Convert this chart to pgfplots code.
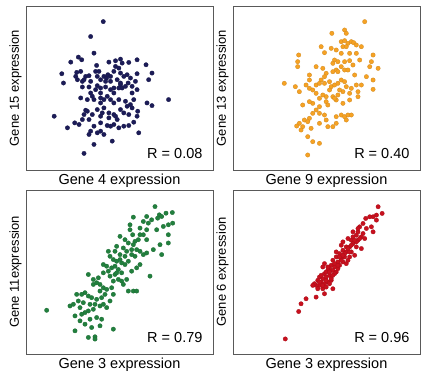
\documentclass[border=0pt]{standalone}
\usepackage{pgfplots}
\pgfplotsset{compat=1.18}
\usepackage{fontspec}
\setmainfont{Liberation Sans}
\definecolor{cnavy}{RGB}{28,28,88}
\definecolor{corange}{RGB}{246,162,36}
\definecolor{cgreen}{RGB}{34,128,62}
\definecolor{cred}{RGB}{200,16,30}
\pgfplotsset{
  panel/.style={
    scale only axis, width=187pt, height=164pt,
    y dir=reverse, xtick=\empty, ytick=\empty,
    axis line style={draw=black!65, line width=0.7pt},
    every axis x label/.style={at={(axis description cs:0.5,0)},anchor=north,yshift=-0.5pt,font=\fontsize{14.5}{16}\selectfont},
    every axis y label/.style={at={(axis description cs:0,0.5)},rotate=90,anchor=south,yshift=1pt,font=\fontsize{13}{15}\selectfont},
  },
  dots/.style={only marks, mark=*, mark size=2.2pt, mark options={draw=#1!85!black, fill=#1, line width=0.3pt}, color=#1},
}
\newcommand{\rlabel}[1]{\node[anchor=south east,font=\fontsize{14.5}{16}\selectfont] at (rel axis cs:1,0) [xshift=-7pt,yshift=8pt] {#1};}
\begin{document}
\begin{tikzpicture}
\path[use as bounding box] (0pt,0pt) rectangle (421pt,-374pt);
% top-left
\begin{axis}[panel, at={(26pt,-6pt)}, anchor=north west, xmin=75, xmax=639, ymin=18, ymax=512,
  xlabel={Gene 4 expression}, ylabel={Gene 15 expression}]
\addplot[dots=cnavy] coordinates {
(308,65) (270,110) (280,160) (233,172) (243,180) (210,187) (288,197) (325,187) (345,183) (360,178)
(365,190) (385,188) (410,180) (437,195) (183,222) (188,250) (228,218) (240,215) (255,230) (230,240)
(245,245) (265,228) (270,245) (285,215) (290,230) (300,240) (310,230) (318,235) (322,225) (315,245)
(330,245) (340,215) (345,200) (355,205) (360,220) (370,230) (380,225) (360,255) (355,265) (365,265)
(375,260) (383,250) (390,235) (405,245) (410,222) (455,220) (445,240) (300,265) (285,270) (265,262)
(245,262) (330,270) (340,280) (320,290) (300,295) (280,300) (275,290) (240,295) (260,300) (300,310)
(310,300) (330,300) (340,310) (355,300) (375,305) (390,315) (400,300) (440,310) (455,318) (505,300)
(410,270) (395,280) (160,350) (200,385) (222,370) (235,375) (250,345) (260,335) (275,345) (290,330)
(305,340) (310,325) (325,355) (340,345) (350,360) (360,330) (370,340) (385,345) (395,325) (410,350)
(412,335) (400,368) (385,378) (370,380) (355,385) (340,375) (320,378) (300,370) (280,380) (270,395)
(265,405) (290,400) (300,395) (310,405) (330,380) (345,350) (415,400) (245,360) (265,360) (280,435)
(335,425) (250,462) (300,350) (325,340) (255,332) (380,320) (315,262) (290,258) (270,280) (350,240)
(330,230) (295,215) (250,240) (225,230) (360,250) (395,260) (340,265) (300,280)
};
\rlabel{R = 0.08}
\end{axis}
% top-right
\begin{axis}[panel, at={(233pt,-6pt)}, anchor=north west, xmin=72, xmax=630, ymin=18, ymax=510,
  xlabel={Gene 9 expression}, ylabel={Gene 13 expression}]
\addplot[dots=corange] coordinates {
(465,65) (405,90) (410,100) (367,100) (395,125) (405,122) (415,130) (425,125) (432,128) (400,140)
(410,140) (440,135) (455,140) (335,140) (365,145) (380,150) (395,160) (420,160) (440,160) (268,165)
(345,158) (490,165) (375,180) (370,190) (385,185) (395,200) (405,185) (420,182) (450,180) (485,185)
(505,205) (480,200) (470,230) (490,240) (490,268) (435,225) (405,210) (380,210) (370,215) (385,215)
(350,220) (345,230) (335,240) (300,225) (300,240) (290,255) (225,250) (258,260) (270,275) (300,265)
(310,270) (320,255) (330,250) (345,250) (360,245) (365,260) (375,255) (385,250) (395,240) (405,245)
(410,260) (425,265) (440,255) (445,275) (420,280) (400,275) (390,270) (385,285) (370,290) (380,300)
(375,295) (350,290) (340,285) (330,295) (310,310) (300,305) (280,315) (350,305) (355,315) (330,320)
(320,330) (330,340) (310,340) (300,355) (285,360) (270,370) (262,378) (280,380) (295,365) (345,345)
(350,360) (380,350) (395,345) (405,350) (415,345) (425,345) (410,360) (380,370) (370,380) (355,380)
(305,385) (295,410) (310,425) (330,430) (295,465) (265,200) (265,185) (400,310) (420,300) (455,255)
(445,290) (360,270) (320,280) (275,390) (330,370) (320,200) (340,205) (415,210) (430,195)
};
\rlabel{R = 0.40}
\end{axis}
% bottom-left
\begin{axis}[panel, at={(26pt,-190pt)}, anchor=north west, xmin=78, xmax=639, ymin=15, ymax=510,
  xlabel={Gene 3 expression}, ylabel={Gene 11expression}]
\addplot[dots=cgreen] coordinates {
(465,65) (498,85) (517,83) (478,90) (440,95) (400,97) (430,110) (445,115) (473,100) (485,95)
(518,115) (490,125) (505,150) (505,175) (480,180) (485,210) (460,195) (440,135) (420,130) (390,120)
(390,135) (430,150) (440,165) (415,165) (405,170) (400,180) (410,195) (395,195) (385,175) (375,165)
(360,155) (350,185) (345,200) (360,210) (375,215) (380,200) (405,215) (420,200) (430,210) (440,205)
(325,200) (330,215) (340,225) (350,230) (365,235) (375,240) (385,230) (310,240) (320,245) (335,250)
(345,245) (355,255) (365,265) (345,270) (330,275) (340,290) (355,285) (365,290) (370,300) (380,285)
(395,260) (410,250) (385,320) (400,320) (410,320) (450,275) (265,270) (280,285) (280,300) (290,295)
(300,300) (310,310) (320,315) (300,320) (315,330) (305,340) (290,345) (275,340) (265,335) (255,325)
(245,330) (230,330) (235,350) (250,355) (270,360) (285,360) (300,365) (310,360) (320,370) (280,375)
(265,380) (255,385) (245,390) (225,395) (210,365) (220,360) (240,370) (140,378) (255,420) (240,410)
(270,405) (290,400) (305,405) (300,425) (275,430) (265,460) (285,458) (285,465) (225,440) (340,435)
(330,350) (340,330) (335,310) (295,280) (310,265) (325,260) (350,265) (360,225) (370,190) (395,210)
(420,240) (420,150) (398,150) (455,105) (505,120) (470,135)
};
\rlabel{R = 0.79}
\end{axis}
% bottom-right
\begin{axis}[panel, at={(233pt,-190pt)}, anchor=north west, xmin=72, xmax=630, ymin=15, ymax=505,
  xlabel={Gene 3 expression}, ylabel={Gene 6 expression}]
\addplot[dots=cred] coordinates {
(505,65) (517,85) (500,90) (490,95) (480,95) (468,100) (500,105) (450,125) (485,125) (470,130)
(490,140) (460,145) (445,140) (430,140) (440,150) (455,155) (465,160) (445,165) (425,165) (430,175)
(420,185) (440,185) (455,190) (410,185) (395,180) (400,195) (410,200) (390,205) (425,200) (435,210)
(420,215) (405,215) (395,220) (380,215) (370,225) (385,230) (400,230) (410,235) (390,240) (375,245)
(365,240) (360,250) (345,235) (340,245) (355,255) (370,255) (380,260) (375,265) (360,270) (345,265)
(350,275) (340,280) (330,275) (325,285) (335,290) (345,295) (355,290) (365,285) (330,300) (320,300)
(315,295) (325,310) (340,310) (370,310) (345,325) (320,335) (290,340) (275,355) (268,378) (228,460)
(400,170) (415,160) (430,155) (460,115) (420,200) (385,250) (350,260) (365,280) (395,225) (415,225)
(380,200) (360,295) (335,270) (350,285) (360,260) (375,235) (390,215) (405,205) (415,190) (425,180)
(440,170) (450,160) (445,130) (435,165) (355,245) (370,270) (385,240) (400,210) (330,290) (340,300)
(350,305) (310,300)
};
\rlabel{R = 0.96}
\end{axis}
\end{tikzpicture}
\end{document}
